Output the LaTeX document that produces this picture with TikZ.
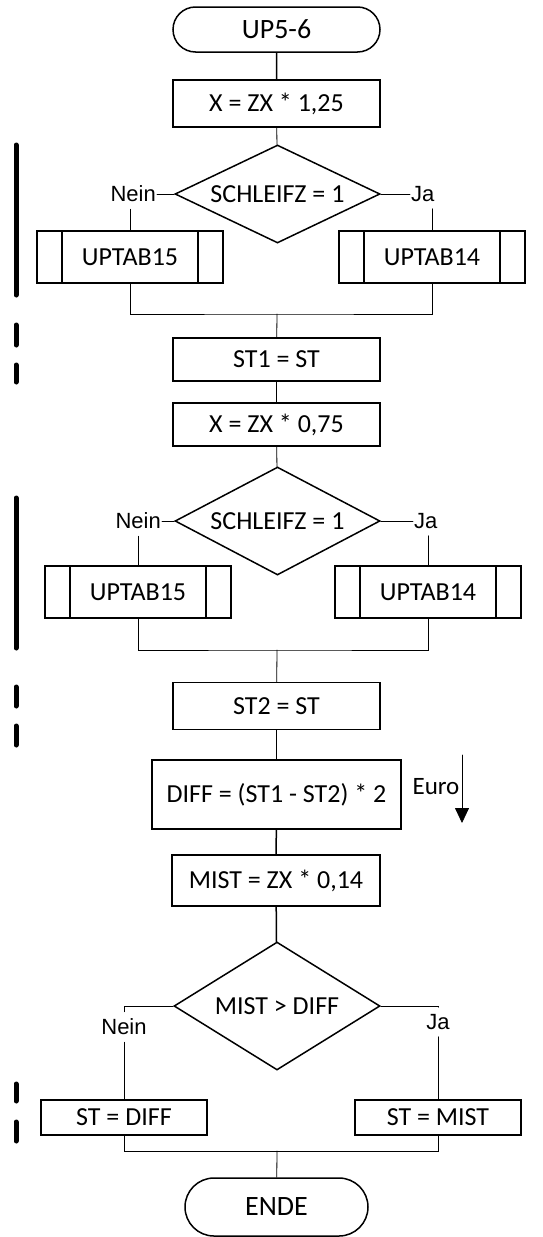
\documentclass[tikz,border=0pt]{standalone}
\usepackage{fontspec}
\setmainfont{Carlito}
\newfontfamily\arialfont{Liberation Sans}
\usetikzlibrary{shapes.geometric, shapes.misc, arrows.meta}

\begin{document}
\begin{tikzpicture}[x=1pt, y=-1pt, line cap=round,
    term/.style={draw, line width=1.5pt, rounded rectangle, minimum width=207pt, minimum height=45pt, inner sep=0pt, font=\fontsize{28}{32}\selectfont},
    proc/.style={draw, line width=1.5pt, rectangle, minimum width=207pt, minimum height=45pt, inner sep=0pt, font=\fontsize{26}{30}\selectfont},
    dec/.style={draw, line width=1.5pt, diamond, aspect=2.1, minimum width=205pt, minimum height=98pt, inner sep=0pt, font=\fontsize{26}{30}\selectfont},
    sub/.style={proc, minimum width=186pt, minimum height=52pt,
        path picture={\draw[line width=1.5pt] ([xshift=25pt]path picture bounding box.north west) -- ([xshift=25pt]path picture bounding box.south west);
                      \draw[line width=1.5pt] ([xshift=-25pt]path picture bounding box.north east) -- ([xshift=-25pt]path picture bounding box.south east);}},
    answer/.style={inner xsep=1pt, inner ysep=7pt, font=\arialfont\fontsize{22}{26}\selectfont},
    mainline/.style={line width=1.5pt},
    branch/.style={line width=0.8pt},
    bar/.style={line width=5pt, line cap=round}]
            \useasboundingbox (0,0) rectangle (542,1237);
            % first part
            \node[term] (start) at (276.5,29.5) {UP5-6};
            \node[proc, minimum height=47pt] (p1) at (276.5,103.5) {X = ZX * 1,25};
            \node[dec] (d1) at (277.5,194) {SCHLEIFZ = 1};
            \node[answer, anchor=east] (n1) at (157,194) {Nein};
            \node[answer, anchor=west] (j1) at (410,194) {Ja};
            \node[sub] (s1) at (130,257) {UPTAB15};
            \node[sub] (s2) at (432,257) {UPTAB14};
            \coordinate (m1) at (277,314);
            \draw[mainline] (start) -- (p1);
            \draw[branch] (p1) -- (d1);
            \draw[branch] (d1.west) -- (n1.east);
            \draw[branch] (d1.east) -- (j1.west);
            \draw[branch] (n1.south -| s1.north) -- (s1.north);
            \draw[branch] (j1.south -| s2.north) -- (s2.north);
            \draw[branch] (s1.south) |- (m1) -| (s2.south);
            % second part
            \node[proc, minimum height=43pt] (p2) at (276.5,359.5) {ST1 = ST};
            \node[proc, minimum height=43pt] (p3) at (276.5,424.5) {X = ZX * 0,75};
            \node[dec, aspect=1.9, minimum height=108pt] (d2) at (277.5,521) {SCHLEIFZ = 1};
            \node[answer, anchor=east] (n2) at (162,521) {Nein};
            \node[answer, anchor=west] (j2) at (413,521) {Ja};
            \node[sub] (s3) at (138,592) {UPTAB15};
            \node[sub] (s4) at (428,592) {UPTAB14};
            \coordinate (m2) at (277,650);
            \draw[branch] (m1) -- (p2);
            \draw[mainline] (p2) -- (p3);
            \draw[branch] (p3) -- (d2);
            \draw[branch] (d2.west) -- (n2.east);
            \draw[branch] (d2.east) -- (j2.west);
            \draw[branch] (n2.south -| s3.north) -- (s3.north);
            \draw[branch] (j2.south -| s4.north) -- (s4.north);
            \draw[branch] (s3.south) |- (m2) -| (s4.south);
            % third part
            \node[proc, minimum height=47pt] (p4) at (276.5,706) {ST2 = ST};
            \node[proc, minimum width=249pt, minimum height=69pt] (p5) at (276.5,794.5) {DIFF = (ST1 - ST2) * 2};
            \node[font=\fontsize{25}{30}\selectfont, inner sep=1pt] (euro) at (436,787) {Euro};
            \coordinate (ea) at (462,755);
            \coordinate (eb) at (462,823);
            \node[proc, minimum width=208pt, minimum height=51pt] (p6) at (276,880.5) {MIST = ZX * 0,14};
            \node[dec, aspect=1.6, minimum width=206pt, minimum height=128pt] (d3) at (277,1006) {MIST > DIFF};
            \node[answer] (n3) at (124,1027) {Nein};
            \node[answer] (j3) at (438,1022) {Ja};
            \node[proc, minimum width=166pt, minimum height=35pt] (p7) at (124,1117.5) {ST = DIFF};
            \node[proc, minimum width=166pt, minimum height=35pt] (p8) at (438,1117.5) {ST = MIST};
            \coordinate (m3) at (277,1151);
            \node[term, minimum width=183pt, minimum height=58pt] (stop) at (276.5,1207) {ENDE};
            \draw[branch] (m2) -- (p4);
            \draw[mainline] (p4) -- (p5);
            \draw[branch, -{Triangle[width=14pt,length=15pt]}] (ea) -- (eb);
            \draw[mainline] (p5) -- (p6);
            \draw[mainline] (p6) -- (d3);
            \draw[branch] (d3.west) -| (n3.north);
            \draw[branch] (d3.east) -| (j3.north);
            \draw[branch] (n3.south) -- (p7.north);
            \draw[branch] (j3.south) -- (p8.north);
            \draw[branch] (p7.south) |- (m3) -| (p8.south);
            \draw[branch] (m3) -- (stop);
            % bars left
            \draw[bar] (16,145) -- (16,295);
            \draw[bar] (16,325) -- (16,345);
            \draw[bar] (16,365) -- (16,382);
            \draw[bar] (16,498) -- (16,648);
            \draw[bar] (16,687) -- (16,706);
            \draw[bar] (16,726) -- (16,745);
            \draw[bar] (16,1084) -- (16,1101);
            \draw[bar] (16,1122) -- (16,1141);
            \end{tikzpicture}
\end{document}
